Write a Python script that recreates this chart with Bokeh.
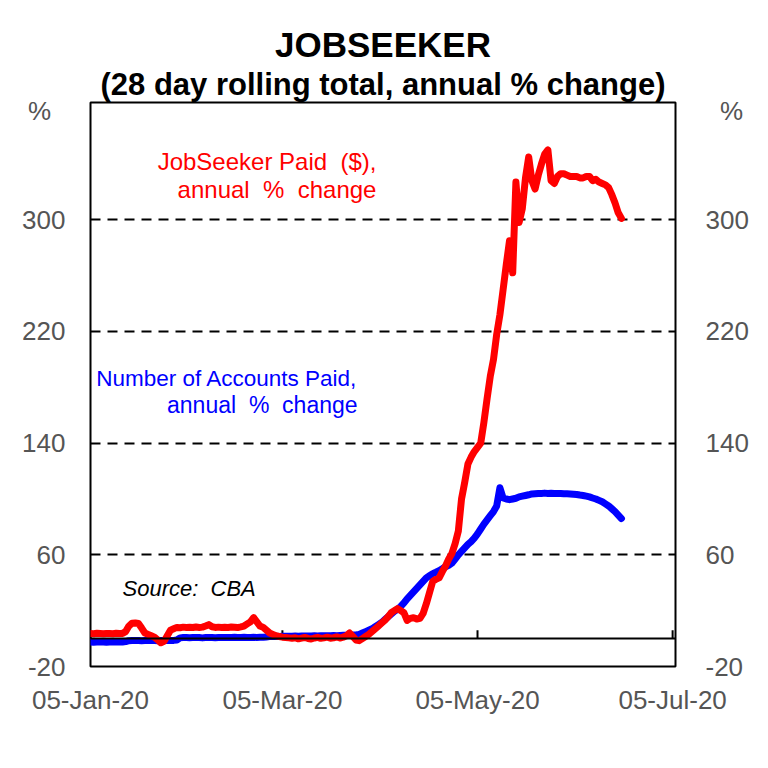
import pandas as pd
from bokeh.plotting import figure
from bokeh.models import Label, FixedTicker, LinearAxis, Span, Range1d, ColumnDataSource, Title
from bokeh.embed import file_html
from bokeh.resources import INLINE

# ---------------- data (daily, starting 05-Jan-2020) ----------------
start_date = "2020-01-05"

jobseeker_paid_pct = [
    3.6, 3.5, 3.8, 3.6, 3.4, 3.7, 3.6, 3.5, 3.8, 3.6,
    3.7, 5.0, 9.0, 11.0, 11.2, 10.8, 7.5, 4.0, 3.0, 2.0,
    1.0, -1.0, -3.0, -2.0, 2.0, 6.0, 7.0, 8.0, 7.8, 8.2,
    8.0, 8.1, 7.9, 8.3, 8.0, 8.2, 9.0, 10.0, 8.5, 8.0,
    8.2, 7.9, 8.1, 8.0, 8.3, 8.1, 7.9, 8.4, 9.0, 10.5,
    12.0, 15.0, 12.0, 9.0, 8.0, 6.0, 4.0, 3.0, 2.0, 1.5,
    1.0, 0.8, 0.5, 0.2, 0.6, -0.2, 0.3, 0.8, 0.1, -0.3,
    0.4, 0.9, 0.2, 0.5, 1.0, 0.3, 0.6, 1.2, 0.4, 1.0,
    2.0, 4.0, 1.5, -1.0, -1.5, 0.0, 1.5, 3.0, 5.0, 7.0,
    9.0, 11.0, 13.0, 15.5, 18.5, 20.0, 21.5, 20.0, 18.5, 13.0,
    14.5, 15.0, 14.0, 14.5, 18.0, 25.0, 33.0, 41.0, 42.5, 43.5,
    48.0, 52.0, 57.0, 61.0, 68.0, 77.0, 100.0, 112.0, 125.0, 130.0,
    134.0, 137.0, 140.0, 155.0, 172.0, 188.0, 200.0, 218.0, 232.0, 250.0,
    268.0, 285.0, 262.0, 327.0, 298.0, 308.0, 330.0, 345.0, 328.0, 322.0,
    332.0, 340.0, 347.0, 350.0, 328.0, 326.0, 331.0, 333.0, 333.0, 332.0,
    331.0, 331.0, 331.0, 330.0, 330.0, 331.0, 331.0, 328.0, 329.0, 327.0,
    326.0, 325.0, 323.0, 318.0, 312.0, 305.0, 301.0,
]

accounts_paid_pct = [
    -2.5, -2.6, -2.5, -2.4, -2.5, -2.6, -2.5, -2.5, -2.4, -2.5,
    -2.5, -2.2, -1.5, -1.4, -1.4, -1.3, -1.5, -1.4, -1.4, -1.3,
    -1.4, -1.5, -1.4, -1.3, -1.2, -1.4, -1.3, -1.0, 0.5, 0.7,
    0.7, 0.6, 0.7, 0.8, 0.7, 0.5, 0.7, 0.8, 0.7, 0.6,
    0.7, 0.8, 0.7, 0.7, 0.8, 0.9, 0.7, 0.8, 0.9, 0.8,
    0.8, 0.9, 0.8, 0.9, 1.0, 1.2, 1.4, 1.5, 1.6, 1.5,
    1.6, 1.7, 1.6, 1.7, 1.8, 1.7, 1.8, 1.9, 1.8, 1.9,
    2.0, 1.9, 2.0, 2.1, 2.0, 2.1, 2.2, 2.1, 2.2, 2.3,
    2.3, 2.4, 2.5, 2.6, 3.0, 4.0, 5.0, 6.0, 7.0, 8.5,
    10.0, 11.5, 13.5, 15.5, 17.5, 19.5, 21.0, 23.0, 25.5, 28.5,
    31.0, 33.5, 36.0, 38.5, 41.0, 43.5, 45.0, 46.5, 47.5, 48.6,
    50.0, 51.5, 52.5, 54.0, 57.0, 60.0, 62.5, 65.0, 67.5, 69.5,
    72.0, 75.0, 78.5, 82.0, 85.0, 88.0, 91.0, 95.0, 108.0, 100.7,
    100.0, 99.5, 100.0, 100.5, 101.5, 102.0, 102.5, 103.0, 103.6, 103.8,
    104.0, 104.0, 104.2, 104.0, 104.1, 104.0, 103.9, 104.0, 103.8, 103.7,
    103.6, 103.4, 103.2, 102.8, 102.5, 102.0, 101.5, 100.7, 100.0, 99.0,
    98.0, 96.5, 95.0, 93.0, 91.0, 88.5, 86.0,
]

x_tick_dates = ["2020-01-05", "2020-03-05", "2020-05-05", "2020-07-05"]
x_tick_labels = ["05-Jan-20", "05-Mar-20", "05-May-20", "05-Jul-20"]
y_ticks = [-20, 60, 140, 220, 300]
y_tick_labels = ["-20", "60", "140", "220", "300"]
y_grid = [60, 140, 220, 300]
unit_label = "%"
unit_pos = 378

title_text = "JOBSEEKER"
subtitle_text = "(28 day rolling total, annual % change)"

# ---------------- helpers ----------------
NB = "\u00a0"

def ms(d):
    return pd.Timestamp(d).value / 1e6

def day_ms(days):
    return ms(start_date) + days * 86400000.0

dates = pd.date_range(start_date, periods=len(jobseeker_paid_pct), freq="D")
src = ColumnDataSource(dict(x=dates, red=jobseeker_paid_pct, blue=accounts_paid_pct))

FONT = "Liberation Sans"
GREY = "#555555"

p = figure(
    width=768, height=768,
    x_axis_type="datetime",
    x_range=Range1d(ms("2020-01-05"), day_ms(182.9)),
    y_range=Range1d(-20, 384),
    output_backend="svg", toolbar_location=None,
    min_border_left=90, min_border_right=93, min_border_top=102, min_border_bottom=102,
    background_fill_color="white", border_fill_color="white",
)
p.outline_line_color = "black"
p.outline_line_width = 2

# titles (first added sits closest to the frame)
p.add_layout(Title(text=subtitle_text, align="center", text_font=FONT, text_font_size="31px",
                   text_font_style="bold", text_color="black", standoff=2), "above")
p.add_layout(Title(text=title_text, align="center", text_font=FONT, text_font_size="35px",
                   text_font_style="bold", text_color="black", standoff=0), "above")

# grid
p.xgrid.visible = False
p.ygrid.ticker = FixedTicker(ticks=y_grid)
p.ygrid.grid_line_color = "black"
p.ygrid.grid_line_width = 2
p.ygrid.grid_line_dash = "10 7"

# x axis (labels only; zero line drawn separately)
tick_ms = [ms(d) for d in x_tick_dates]
xa = p.xaxis[0]
xa.ticker = FixedTicker(ticks=tick_ms)
xa.major_label_overrides = {t: l for t, l in zip(tick_ms, x_tick_labels)}
xa.axis_line_color = None
xa.major_tick_line_color = None
xa.minor_tick_line_color = None
xa.major_tick_out = 0
xa.major_tick_in = 0
xa.major_label_standoff = 18
xa.major_label_text_font = FONT
xa.major_label_text_font_size = "26px"
xa.major_label_text_color = GREY

def style_y(ax, standoff, unit_text):
    ax.ticker = FixedTicker(ticks=y_ticks + [unit_pos])
    overrides = {t: l for t, l in zip(y_ticks, y_tick_labels)}
    overrides[unit_pos] = unit_text
    ax.major_label_overrides = overrides
    ax.axis_line_color = None
    ax.major_tick_line_color = None
    ax.minor_tick_line_color = None
    ax.major_tick_out = 0
    ax.major_tick_in = 0
    ax.major_label_standoff = standoff
    ax.major_label_text_font = FONT
    ax.major_label_text_font_size = "26px"
    ax.major_label_text_color = GREY

style_y(p.yaxis[0], 25, unit_label + NB + NB)
ra = LinearAxis()
style_y(ra, 30, NB + NB + unit_label)
p.add_layout(ra, "right")

# zero line with upward ticks
p.add_layout(Span(location=0, dimension="width", line_color="black", line_width=2))
p.segment(x0=tick_ms, y0=[0] * len(tick_ms), x1=tick_ms, y1=[6] * len(tick_ms),
          line_color="black", line_width=2)

# series
p.line("x", "blue", source=src, line_color="#0000ff", line_width=7, line_join="round", line_cap="round")
p.line("x", "red", source=src, line_color="#ff0000", line_width=7, line_join="round", line_cap="round")

def lab(x, y, text, size, color="black", align="center", style="normal"):
    p.add_layout(Label(x=x, y=y, text=text, text_font=FONT, text_font_size=size,
                       text_color=color, text_align=align, text_baseline="middle",
                       text_font_style=style))

# annotations
lab(day_ms(89.4), 342, "JobSeeker Paid" + NB + " ($),", "24px", color="#ff0000", align="right")
lab(day_ms(89.4), 322, "annual" + NB + " %" + NB + " change", "24px", color="#ff0000", align="right")
lab(day_ms(83.5), 186, "Number of Accounts Paid,", "22.5px", color="#0000ff", align="right")
lab(day_ms(83.5), 167.5, "annual" + NB + " %" + NB + " change", "23px", color="#0000ff", align="right")
lab(day_ms(10), 36, "Source:" + NB + " CBA", "22px", align="left", style="italic")

open("out.html", "w").write(file_html(p, INLINE))
